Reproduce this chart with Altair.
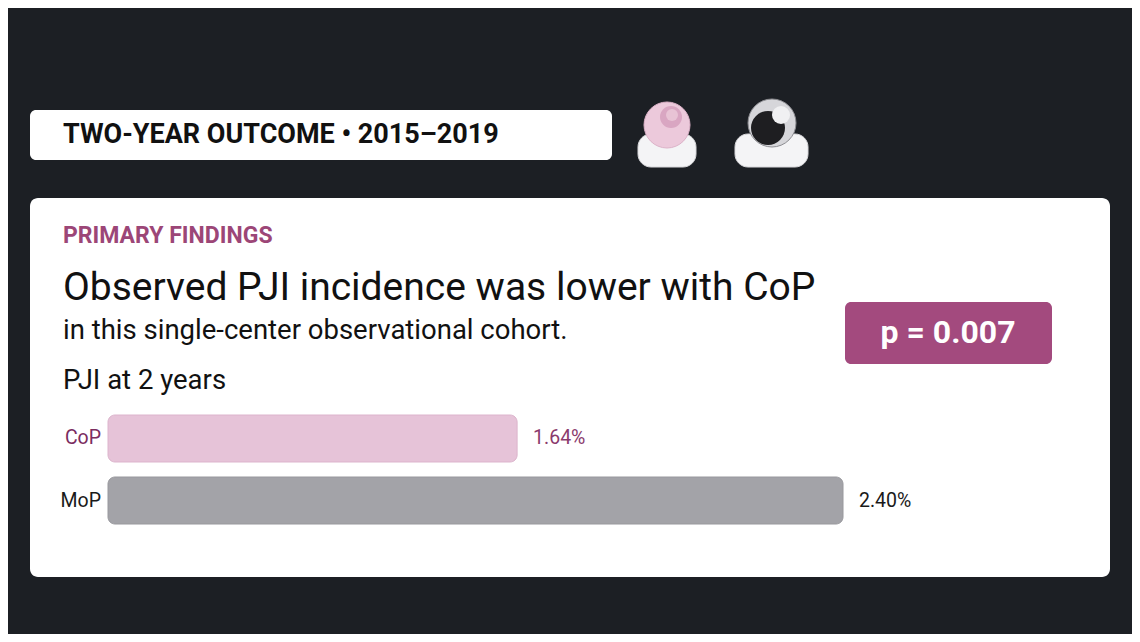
import pandas as pd
import altair as alt

# ---- data ----
groups = ["CoP", "MoP"]
pji_2yr = [1.64, 2.40]
value_labels = ["1.64%", "2.40%"]
bar_colors = ["#e6c3d8", "#a3a3a8"]
bar_strokes = ["#dcb4cc", "#98989d"]
label_colors = ["#7b2d5f", "#1a1a1a"]

header = "TWO-YEAR OUTCOME \u2022 2015\u20132019"
kicker = "PRIMARY FINDINGS"
headline = "Observed PJI incidence was lower with CoP"
subhead = "in this single-center observational cohort."
chart_title = "PJI at 2 years"
p_text = "p = 0.007"

W, H = 1124, 626
OFF = 8  # page margin: reference pixel -> chart pixel
FONT = "Roboto"
X_MIN = 0.686  # left edge of the bar scale

one = pd.DataFrame({"k": [0]})


def px(v):
    return v - OFF


def box(x0, x1, y0, y1, fill, radius=6, stroke=None):
    kw = dict(fill=fill, cornerRadius=radius)
    if stroke:
        kw.update(stroke=stroke, strokeWidth=1)
    return alt.Chart(one).mark_rect(**kw).encode(
        x=alt.value(px(x0)), x2=alt.value(px(x1)),
        y=alt.value(px(y0)), y2=alt.value(px(y1)),
    )


def label(txt, x, y, size, color, weight="normal", align="left"):
    return alt.Chart(one).mark_text(
        text=txt, font=FONT, fontSize=size, fontWeight=weight,
        color=color, align=align, baseline="middle",
    ).encode(x=alt.value(px(x)), y=alt.value(px(y)))


def dot(x, y, d, fill, stroke=None):
    kw = dict(shape="circle", filled=True, fill=fill, opacity=1, size=d * d)
    if stroke:
        kw.update(stroke=stroke, strokeWidth=1)
    return alt.Chart(one).mark_point(**kw).encode(
        x=alt.value(px(x)), y=alt.value(px(y)))


# ---- frame ----
layers = [
    box(30, 612, 110, 160, "#ffffff", radius=6),
    label(header, 63, 135, 27, "#111111", weight="bold"),
    box(30, 1110, 198, 577, "#ffffff", radius=8),
    label(kicker, 63, 236, 23, "#9c4677", weight="bold"),
    label(headline, 63, 288, 39, "#111111"),
    label(subhead, 63, 331, 27.5, "#111111"),
    label(chart_title, 63, 381, 27.5, "#111111"),
    box(845, 1052, 302, 364, "#a34a7e", radius=6),
    label(p_text, 948, 333, 32, "#ffffff", weight="bold", align="center"),
    # ceramic insert icon
    box(638, 696, 134, 167, "#f4f4f6", radius=13, stroke="#d9d9dc"),
    dot(667, 125, 46, "#ecc9db", stroke="#dcb2c8"),
    dot(671, 117, 22, "#d9a6c2"),
    dot(672, 115, 12, "#e8c3d5"),
    # metal head icon
    box(735, 808, 134, 167, "#f4f4f6", radius=13, stroke="#d9d9dc"),
    dot(772, 123, 48, "#d6d6da", stroke="#8d8d92"),
    dot(768, 128, 34, "#1e1e21"),
    dot(781, 115, 18, "#f0f0f2"),
]

# ---- bars ----
bars_df = pd.DataFrame({
    "group": groups,
    "value": pji_2yr,
    "text": value_labels,
})

x_scale = alt.Scale(domain=[X_MIN, 2.40], range=[px(108), px(843)], zero=False)
y_scale = alt.Scale(domain=groups, range=[px(415), px(524)],
                    paddingInner=0.242, paddingOuter=0)

base = alt.Chart(bars_df).encode(
    y=alt.Y("group:N", scale=y_scale, axis=None),
)

bars = base.mark_bar(cornerRadius=7, strokeWidth=1).encode(
    x=alt.X("value:Q", scale=x_scale, axis=None),
    x2=alt.datum(X_MIN),
    fill=alt.Fill("group:N", scale=alt.Scale(domain=groups, range=bar_colors), legend=None),
    stroke=alt.Stroke("group:N", scale=alt.Scale(domain=groups, range=bar_strokes), legend=None),
)

values = base.mark_text(
    font=FONT, fontSize=19.5, align="left", baseline="middle", dx=16,
).encode(
    x=alt.X("value:Q", scale=x_scale, axis=None),
    text="text:N",
    color=alt.Color("group:N", scale=alt.Scale(domain=groups, range=["#8a3a6c", "#1a1a1a"]), legend=None),
)

names = base.mark_text(
    font=FONT, fontSize=19.5, align="right", baseline="middle",
).encode(
    x=alt.value(px(101)),
    text="group:N",
    color=alt.Color("group:N", scale=alt.Scale(domain=groups, range=label_colors), legend=None),
)

chart = alt.layer(*layers, bars, values, names).resolve_scale(
    color="independent", fill="independent", stroke="independent"
).properties(
    width=W, height=H, padding=0,
    autosize=alt.AutoSizeParams(type="none"),
    background="#1c1f24",
).configure_view(stroke=None)

chart.save("out.html", embed_options={"renderer": "svg", "actions": False})
